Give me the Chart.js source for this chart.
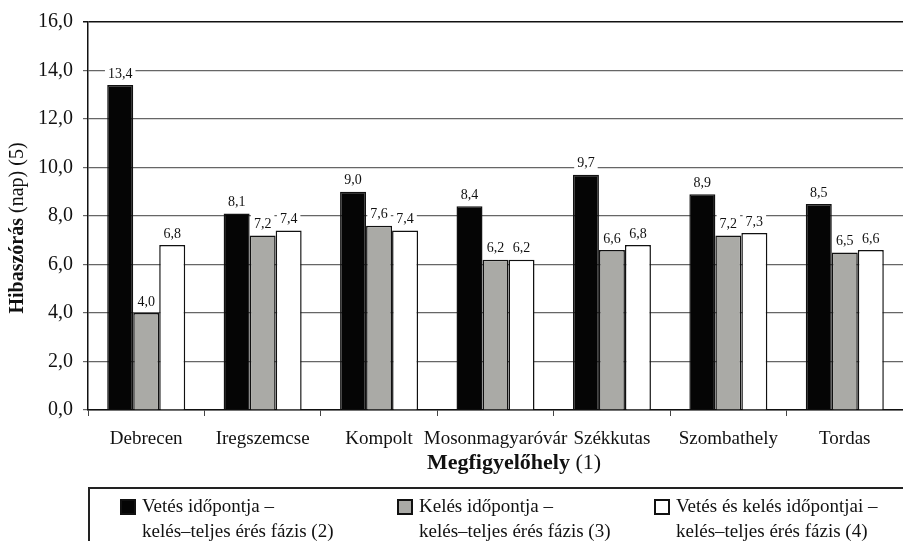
<!DOCTYPE html>
<html>
<head>
<meta charset="utf-8">
<script src="https://cdn.jsdelivr.net/npm/chart.js@4/dist/chart.umd.min.js"></script>
<style>
  body { margin: 0; background: #fff; }
  #wrap { position: relative; width: 903px; height: 541px; overflow: hidden; }
  #legend { position: absolute; left: 88px; top: 487px; width: 840px; height: 80px;
    border: 2px solid #222; box-sizing: border-box; font-family: 'Liberation Serif', serif;
    font-size: 19px; color: #111; }
  .item { position: absolute; top: 4px; line-height: 25px; }
  .box { position: absolute; left: 0; top: 6px; width: 12px; height: 12px; border: 2px solid #111; }
  .txt { position: absolute; left: 22px; top: 0; white-space: nowrap; }
</style>
</head>
<body>
<div id="wrap">
  <canvas id="myChart" width="903" height="541"></canvas>
  <div id="legend"></div>
</div>
<script>
'use strict';
let categories = ['Debrecen','Iregszemcse','Kompolt','Mosonmagyaróvár','Székkutas','Szombathely','Tordas'];
let sowing = [13.4, 8.1, 9.0, 8.4, 9.7, 8.9, 8.5];
let emergence = [4.0, 7.2, 7.6, 6.2, 6.6, 7.2, 6.5];
let both = [6.8, 7.4, 7.4, 6.2, 6.8, 7.3, 6.6];
let seriesNames = [
  ['Vetés időpontja –', 'kelés–teljes érés fázis (2)'],
  ['Kelés időpontja –', 'kelés–teljes érés fázis (3)'],
  ['Vetés és kelés időpontjai –', 'kelés–teljes érés fázis (4)']
];
let colors = ['#050505', '#aaaaa6', '#ffffff'];
let legendX = [30, 307, 564];

function fmt(v){
  return v.toFixed(1).replace('.', ',');
}

// value labels above the bars
let valueLabels = {
  id: 'valueLabels',
  afterDatasetsDraw(chart){
    let ctx = chart.ctx;
    ctx.save();
    ctx.font = '14px "Liberation Serif", serif';
    ctx.textAlign = 'center';
    ctx.textBaseline = 'bottom';
    chart.data.datasets.forEach((ds, i) => {
      chart.getDatasetMeta(i).data.forEach((bar, j) => {
        let t = fmt(ds.data[j]);
        let w = ctx.measureText(t).width;
        ctx.fillStyle = '#fff';
        ctx.fillRect(bar.x - w/2 - 3, bar.y - 21, w + 6, 16);
        ctx.fillStyle = '#111';
        ctx.fillText(t, bar.x, bar.y - 4);
      });
    });
    ctx.restore();
  }
};

// axis titles with bold + normal parts
let axisTitles = {
  id: 'axisTitles',
  afterDraw(chart){
    let ctx = chart.ctx;
    ctx.save();
    ctx.fillStyle = '#111';
    ctx.textBaseline = 'middle';
    ctx.textAlign = 'left';
    // x title
    let bold = 'bold 22px "Liberation Serif", serif';
    let norm = '22px "Liberation Serif", serif';
    ctx.font = bold;
    let a = 'Megfigyelőhely';
    let wa = ctx.measureText(a).width;
    ctx.font = norm;
    let b = ' (1)';
    let wb = ctx.measureText(b).width;
    let x0 = 514 - (wa + wb) / 2;
    ctx.font = bold;
    ctx.fillText(a, x0, 463);
    ctx.font = norm;
    ctx.fillText(b, x0 + wa, 463);
    // y title
    bold = 'bold 20px "Liberation Serif", serif';
    norm = '20px "Liberation Serif", serif';
    ctx.translate(18, 228);
    ctx.rotate(-Math.PI / 2);
    ctx.font = bold;
    a = 'Hibaszórás';
    wa = ctx.measureText(a).width;
    ctx.font = norm;
    b = ' (nap) (5)';
    wb = ctx.measureText(b).width;
    x0 = -(wa + wb) / 2;
    ctx.font = bold;
    ctx.fillText(a, x0, 0);
    ctx.font = norm;
    ctx.fillText(b, x0 + wa, 0);
    ctx.restore();
  }
};

let ctx = document.getElementById('myChart').getContext('2d');
let myChart = new Chart(ctx, {
  type: 'bar',
  data: {
    labels: categories,
    datasets: [sowing, emergence, both].map((d, i) => ({
      label: seriesNames[i].join(' '),
      data: d,
      backgroundColor: colors[i],
      borderColor: '#111',
      borderWidth: 1.5,
      barPercentage: 1,
      categoryPercentage: 0.67
    }))
  },
  options: {
    responsive: false,
    animation: false,
    layout: { padding: { top: 12, right: 0, left: 0, bottom: 0 } },
    plugins: { legend: { display: false }, tooltip: { enabled: false } },
    scales: {
      x: {
        grid: { display: true, drawOnChartArea: false, offset: true, tickLength: 6, color: '#444' },
        border: { color: '#111', width: 1.5 },
        ticks: { color: '#111', padding: 12, maxRotation: 0, autoSkip: false,
          font: { family: '"Liberation Serif", serif', size: 19 } },
        afterFit(s){ s.height = 131; }
      },
      y: {
        min: 0,
        max: 16,
        ticks: {
          stepSize: 2, color: '#111', padding: 10,
          font: { family: '"Liberation Serif", serif', size: 20 },
          callback: v => fmt(v)
        },
        grid: {
          tickLength: 5,
          color: c => c.tick && c.tick.value === 16 ? '#111' : '#666',
          lineWidth: c => c.tick && c.tick.value === 16 ? 1.5 : 1.2
        },
        border: { color: '#111', width: 1.5 },
        afterFit(s){ s.width = 88; }
      }
    }
  },
  plugins: [valueLabels, axisTitles]
});

// legend as html text
let legendE = document.getElementById('legend');
for (let i = 0; i < seriesNames.length; i++){
  let item = document.createElement('div');
  item.className = 'item';
  item.style.left = legendX[i] + 'px';
  let box = document.createElement('div');
  box.className = 'box';
  box.style.background = colors[i];
  let txt = document.createElement('div');
  txt.className = 'txt';
  txt.innerHTML = seriesNames[i].join('<br>');
  item.appendChild(box);
  item.appendChild(txt);
  legendE.appendChild(item);
}
</script>
</body>
</html>
